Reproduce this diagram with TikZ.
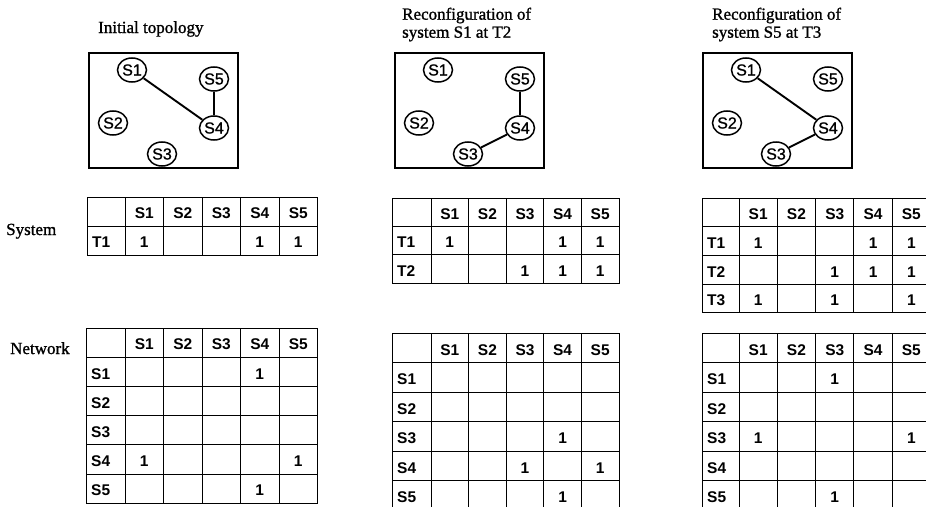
\documentclass[tikz,border=0pt]{standalone}
\usepackage{fontspec}
\setmainfont{Liberation Serif}
\newfontfamily\ttlfont[FakeBold=1.2]{Liberation Serif}
\newfontfamily\arialfont{Liberation Sans}
\newfontfamily\arialheavy[FakeBold=1.0]{Liberation Sans}
\usetikzlibrary{shapes.geometric}
\tikzset{
  tabline/.style={line width=1pt, draw=black},
  boxline/.style={line width=1.3pt, draw=black},
  link/.style={line width=1.9pt, draw=black},
  sysnode/.style={ellipse, draw=black, line width=1.5pt, fill=white, minimum width=29pt, minimum height=24pt, inner sep=0pt, font=\arialheavy\fontsize{16}{17}\selectfont},
  hd/.style={inner sep=0pt, font=\arialfont\bfseries\fontsize{15.5}{17}\selectfont},
  rl/.style={anchor=west, inner sep=0pt, font=\arialfont\bfseries\fontsize{15.5}{17}\selectfont},
  val/.style={inner sep=0pt, font=\arialfont\bfseries\fontsize{15.5}{17}\selectfont},
  ttl/.style={inner sep=0pt, align=left, font=\ttlfont\fontsize{17}{18}\selectfont},
}
% #1 prefix, #2 x0, #3 y0, #4 first col width, #5 col width, #6 row height, #7 row labels, #8 cells r/c
\newcommand\mytable[8]{%
  \draw[tabline] (#2,#3) rectangle ({#2+#4+5*#5},{#3+#6});
  \foreach \c in {0,...,4} \draw[tabline] ({#2+#4+\c*#5},#3) -- ++(0,#6);
  \foreach \c in {1,...,5} \node[hd] (#1h\c) at ({#2+#4+(\c-0.5)*#5},{#3+0.5*#6+2}) {S\c};
  \foreach \lab [count=\r] in {#7} {
    \draw[tabline] (#2,{#3+\r*#6}) rectangle ({#2+#4+5*#5},{#3+(\r+1)*#6});
    \foreach \c in {0,...,4} \draw[tabline] ({#2+#4+\c*#5},{#3+\r*#6}) -- ++(0,#6);
    \node[rl] (#1r\r) at ({#2+5},{#3+(\r+0.5)*#6+2}) {\lab};
  }
  \foreach \r/\c in {#8} \node[val] (#1v\r\c) at ({#2+#4+(\c-0.5)*#5},{#3+(\r+0.5)*#6+2}) {1};
}
% #1 prefix, #2 box left x, #3 edges
\newcommand\mytopo[3]{%
  \draw[boxline] (#2,53) rectangle ({#2+149},168);
  \node[sysnode] (#1s1) at ({#2+43},70) {S1};
  \node[sysnode] (#1s5) at ({#2+125},79) {S5};
  \node[sysnode] (#1s2) at ({#2+24},123) {S2};
  \node[sysnode] (#1s4) at ({#2+125},128) {S4};
  \node[sysnode] (#1s3) at ({#2+73},154) {S3};
  \foreach \a/\b in {#3} \draw[link] (#1\a) -- (#1\b);
}
\begin{document}
\begin{tikzpicture}[x=1pt,y=-1pt]
\useasboundingbox (0,0) rectangle (926,506);
\clip (0,0) rectangle (926,506);
\fill[white] (0,0) rectangle (926,506);

% titles
\node[ttl, anchor=base west] (t1) at (98,33) {Initial topology};
\node[ttl, anchor=north west] (t2) at (402,7.5) {Reconfiguration of\\system S1 at T2};
\node[ttl, anchor=north west] (t3) at (712,7.5) {Reconfiguration of\\system S5 at T3};
\node[ttl, anchor=base west] (lsys) at (6,235) {System};
\node[ttl, anchor=base west] (lnet) at (10,354) {Network};

% topologies
\mytopo{a}{89}{s1/s4,s5/s4}
\mytopo{b}{395}{s5/s4,s3/s4}
\mytopo{c}{703}{s1/s4,s3/s4}

% system tables
\mytable{as}{87}{197}{38}{38.5}{29}{T1}{1/1,1/4,1/5}
\mytable{bs}{392}{198}{39}{37.6}{28.4}{T1,T2}{1/1,1/4,1/5,2/3,2/4,2/5}
\mytable{cs}{702}{198}{37}{38.3}{28.7}{T1,T2,T3}{1/1,1/4,1/5,2/3,2/4,2/5,3/1,3/3,3/5}

% network tables
\mytable{an}{86}{328}{39}{38.5}{29.2}{S1,S2,S3,S4,S5}{1/4,4/1,4/5,5/4}
\mytable{bn}{392}{333}{39}{37.6}{29.5}{S1,S2,S3,S4,S5}{3/4,4/3,4/5,5/4}
\mytable{cn}{702}{333}{37}{38.3}{29.5}{S1,S2,S3,S4,S5}{1/3,3/1,3/5,5/3}
\end{tikzpicture}
\end{document}
